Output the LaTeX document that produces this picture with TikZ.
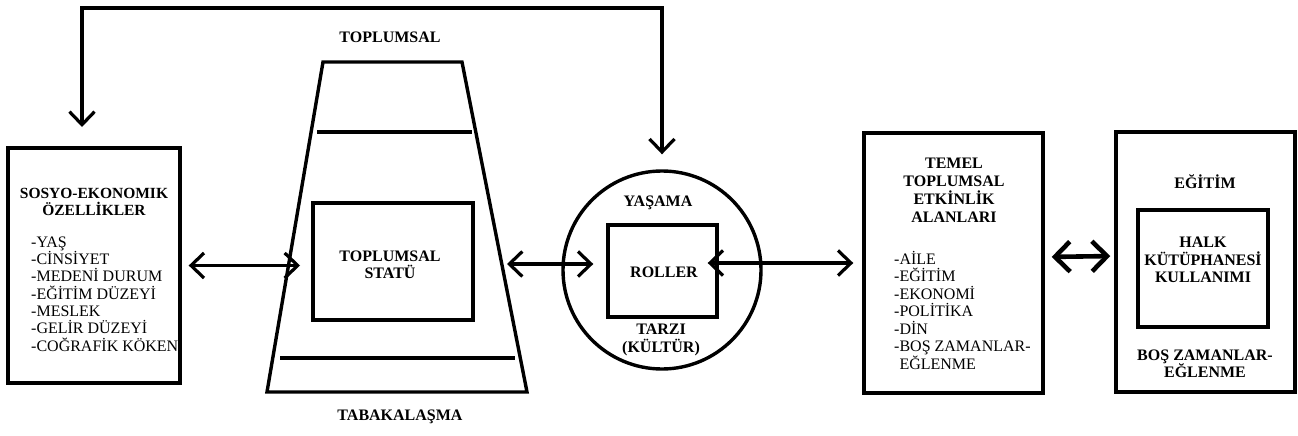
\documentclass[tikz,border=0pt]{standalone}
\usepackage{fontspec}
\setmainfont{Liberation Serif}
\usetikzlibrary{arrows.meta, positioning}

\begin{document}
\begin{tikzpicture}[x=1pt, y=-1pt,
  box/.style={draw, line width=3.4pt, inner sep=0pt},
  title/.style={font=\fontsize{16}{17.5}\selectfont\bfseries, align=center, inner sep=0pt},
  list/.style={font=\fontsize{16}{17.3}\selectfont, align=left, inner sep=0pt},
  link/.style={>={Straight Barb[length=13pt, width=25pt]}, <->, line width=3.2pt},
  widelink/.style={>={Straight Barb[length=15pt, width=30pt]}, <->, line width=4.6pt}]
\useasboundingbox (0,0) rectangle (1298,436);

% boxes
\node[box, minimum width=172pt, minimum height=235pt] (socio) at (94,265.5) {};
\node[box, minimum width=160pt, minimum height=117pt] (status) at (393,261.5) {};
\node[box, circle, minimum size=198pt] (life) at (662,270) {};
\node[box, minimum width=109pt, minimum height=92pt] (roles) at (662.5,271) {};
\node[box, minimum width=179pt, minimum height=260pt] (activity) at (953.5,263) {};
\node[box, minimum width=179pt, minimum height=260pt] (education) at (1205.5,262) {};
\node[box, minimum width=130pt, minimum height=117pt] (library) at (1203,268.5) {};

% stratification trapezoid
\draw[line width=3.4pt] (267,392) -- (323,62) -- (462,62) -- (527,392) -- cycle;
\draw[line width=3.4pt] (317,132) -- (472,132);
\draw[line width=3.4pt] (280,358) -- (515,358);
\coordinate (stratW) at (300,265.5);
\coordinate (stratE) at (507,264);

% texts
\node[title, font=\fontsize{15.5}{17.5}\selectfont\bfseries] (socioT) at (94,202) {SOSYO-EKONOMIK\\ÖZELLİKLER};
\node[list, anchor=west] (socioL) at (31,294) {-YAŞ\\-CİNSİYET\\-MEDENİ DURUM\\-EĞİTİM DÜZEYİ\\-MESLEK\\-GELİR DÜZEYİ\\-COĞRAFİK KÖKEN};
\node[title] (stratT) at (390,37) {TOPLUMSAL};
\node[title] (stratB) at (400,417) {TABAKALAŞMA};
\node[title] (statusT) at (390,265) {TOPLUMSAL\\STATÜ};
\node[title] (lifeT) at (658,203) {YAŞAMA};
\node[title] (rolesT) at (664,272) {ROLLER};
\node[title] (lifeB) at (661,340) {TARZI\\(KÜLTÜR)};
\node[title, font=\fontsize{16}{18}\selectfont\bfseries] (activityT) at (954,190) {TEMEL\\TOPLUMSAL\\ETKİNLİK\\ALANLARI};
\node[list, font=\fontsize{16}{17.5}\selectfont, anchor=west] (activityL) at (894,310) {-AİLE\\-EĞİTİM\\-EKONOMİ\\-POLİTİKA\\-DİN\\-BOŞ ZAMANLAR-\\\hphantom{-}EĞLENME};
\node[title] (educationT) at (1205,182) {EĞİTİM};
\node[title] (libraryT) at (1203,260) {HALK\\KÜTÜPHANESİ\\KULLANIMI};
\node[title] (educationB) at (1205,364) {BOŞ ZAMANLAR-\\EĞLENME};

% connectors
\coordinate (loopL) at (82,148);
\coordinate (loopTop) at (400,8);
\draw[link, shorten <=21pt, shorten >=15pt] (loopL) |- (loopTop) -| (life.north);
\draw[link, shorten <=7pt] (socio.east) -- (stratW);
\draw[link, shorten >=13pt] (stratE) -- (roles.west |- stratE);
\draw[link, shorten <=-11pt, shorten >=9pt] (roles.east |- activity.west) -- (activity.west);
\draw[widelink, shorten <=7pt, shorten >=4pt] ([yshift=6pt]activity.east) -- ([yshift=6pt]education.west);

\end{tikzpicture}
\end{document}
